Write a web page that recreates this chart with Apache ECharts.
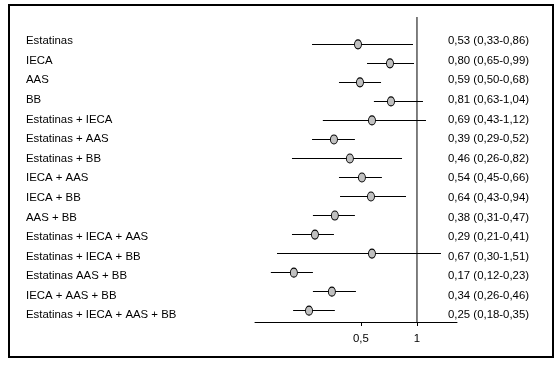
<!DOCTYPE html>
<html><head><meta charset="utf-8">
<script src="https://cdn.jsdelivr.net/npm/echarts@6/dist/echarts.min.js"></script>
<style>html,body{margin:0;padding:0;background:#fff}#chart{width:560px;height:365px}</style>
</head><body><div id="chart"></div>
<script>
// Row names
const categories = ['Estatinas','IECA','AAS','BB','Estatinas + IECA','Estatinas + AAS','Estatinas + BB','IECA + AAS','IECA + BB','AAS + BB','Estatinas + IECA + AAS','Estatinas + IECA + BB','Estatinas AAS + BB','IECA + AAS + BB','Estatinas + IECA + AAS + BB'];
// Stated odds ratios and 95% CI (right-hand text)
const orValue = [0.53,0.80,0.59,0.81,0.69,0.39,0.46,0.54,0.64,0.38,0.29,0.67,0.17,0.34,0.25];
const orLow   = [0.33,0.65,0.50,0.63,0.43,0.29,0.26,0.45,0.43,0.31,0.21,0.30,0.12,0.26,0.18];
const orHigh  = [0.86,0.99,0.68,1.04,1.12,0.52,0.82,0.66,0.94,0.47,0.41,1.51,0.23,0.46,0.35];
// Positions of the marks as drawn in the picture (read against the 0,5 / 1 axis)
const plotEst  = [0.482,0.716,0.494,0.725,0.573,0.358,0.436,0.506,0.566,0.362,0.283,0.573,0.218,0.349,0.263];
const plotLow  = [0.273,0.539,0.381,0.587,0.312,0.273,0.213,0.381,0.386,0.276,0.213,0.177,0.164,0.276,0.216];
const plotHigh = [0.952,0.964,0.641,1.077,1.118,0.464,0.831,0.648,0.873,0.464,0.358,1.346,0.276,0.470,0.362];
// Axis
const tickValues = [0.5, 1];
const refValue = 1;
const axisMin = 0.1348, axisMax = 1.6407;

const fmt = v => v.toFixed(2).replace('.', ',');
const rightLabels = orValue.map((v, i) => fmt(v) + ' (' + fmt(orLow[i]) + '-' + fmt(orHigh[i]) + ')');

const FONT = {fontFamily: 'Liberation Sans, Arial, sans-serif', fontSize: 11.4, color: '#000'};
const chart = echarts.init(document.getElementById('chart'), null, {renderer: 'canvas'});

const option = {
  animation: false,
  backgroundColor: '#fff',
  grid: [
    {left: 9, top: 5, width: 544, height: 352, show: true, borderColor: '#000', borderWidth: 2, backgroundColor: 'transparent'},
    {left: 255, top: 17, width: 202, height: 305},
    {left: 255, top: 34.8, width: 202, height: 285.4},
    {left: 26, top: 31.4, width: 422, height: 293.7}
  ],
  xAxis: [
    {gridIndex: 0, type: 'value', show: false},
    {gridIndex: 1, type: 'log', logBase: 10, min: axisMin, max: axisMax,
      axisLine: {show: true, onZero: false, lineStyle: {color: '#000', width: 1}},
      axisTick: {show: true, customValues: tickValues, length: 4, inside: false, lineStyle: {color: '#000', width: 1}},
      axisLabel: {show: true, customValues: tickValues, margin: 11, ...FONT,
        formatter: v => String(v).replace('.', ',')},
      splitLine: {show: false}},
    {gridIndex: 2, type: 'log', logBase: 10, min: axisMin, max: axisMax, show: false, splitLine: {show: false}},
    {gridIndex: 3, type: 'value', show: false}
  ],
  yAxis: [
    {gridIndex: 0, type: 'value', show: false},
    {gridIndex: 1, type: 'value', min: 0, max: 1, show: false},
    {gridIndex: 2, type: 'category', data: categories, inverse: true, show: false},
    {gridIndex: 3, type: 'category', data: categories, inverse: true, position: 'left',
      axisLine: {show: false}, axisTick: {show: false},
      axisLabel: {show: true, align: 'left', margin: 0, ...FONT}},
    {gridIndex: 3, type: 'category', data: rightLabels, inverse: true, position: 'right',
      axisLine: {show: false}, axisTick: {show: false},
      axisLabel: {show: true, align: 'left', margin: 0, ...FONT}}
  ],
  series: [
    {type: 'line', xAxisIndex: 1, yAxisIndex: 1, data: [[refValue, 0], [refValue, 1]],
      showSymbol: false, silent: true, lineStyle: {color: '#000', width: 1}},
    {type: 'custom', xAxisIndex: 2, yAxisIndex: 2, silent: true,
      data: categories.map((c, i) => [plotLow[i], plotHigh[i], i]),
      renderItem: function (params, api) {
        const a = api.coord([api.value(0), api.value(2)]);
        const b = api.coord([api.value(1), api.value(2)]);
        const y = Math.round(a[1] - 0.5) + 0.5;
        return {type: 'line', shape: {x1: a[0], y1: y, x2: b[0], y2: y},
          style: {stroke: '#000', lineWidth: 1}};
      }},
    {type: 'scatter', xAxisIndex: 2, yAxisIndex: 2, silent: true, z: 3,
      data: categories.map((c, i) => [plotEst[i], i]),
      symbol: 'circle', symbolSize: [7, 9],
      itemStyle: {color: '#c0c0c0', borderColor: '#000', borderWidth: 1, opacity: 1}}
  ]
};
chart.setOption(option);
</script></body></html>
